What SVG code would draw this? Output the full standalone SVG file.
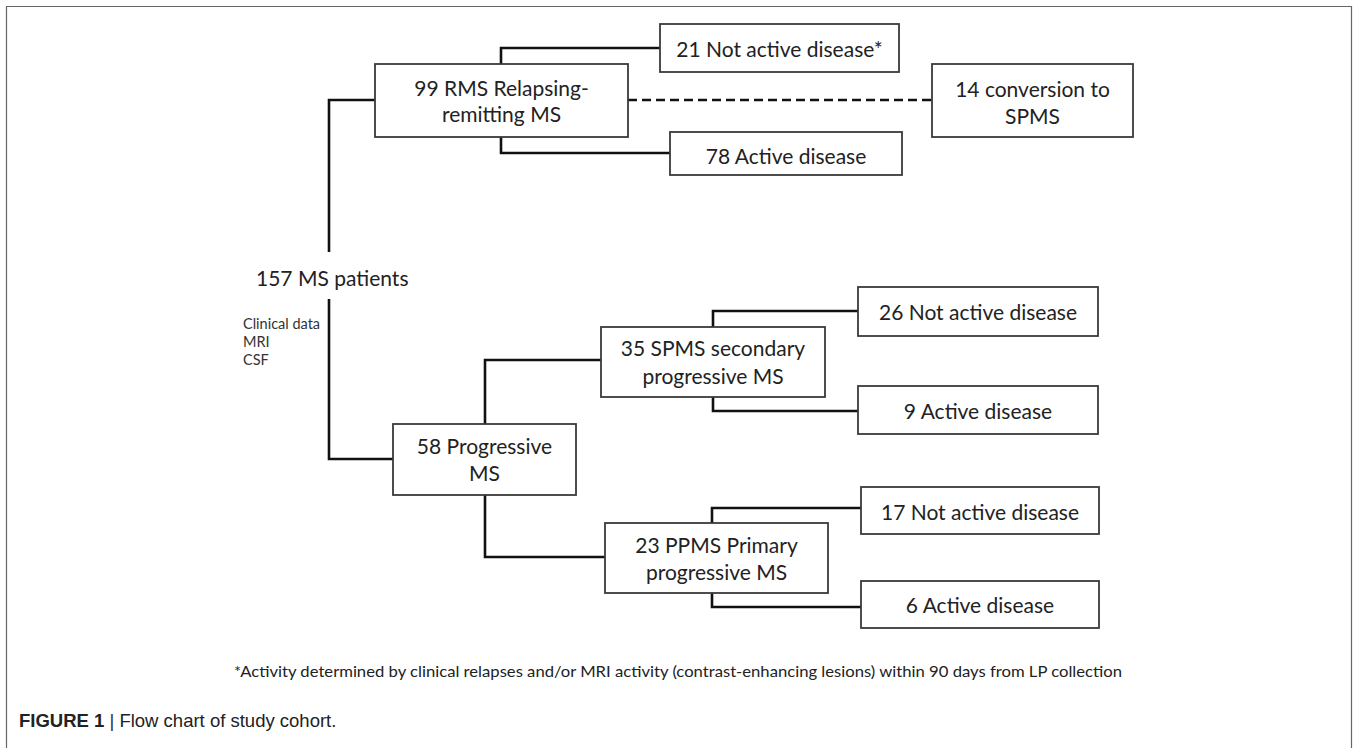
<svg xmlns="http://www.w3.org/2000/svg" width="1357" height="748" viewBox="0 0 1357 748">
<style>
.box{fill:#fff;stroke:#3a3a3a;stroke-width:1.8}
.t{font-family:Lato,"Open Sans","Liberation Sans",sans-serif;font-size:21px;fill:#222;text-anchor:middle}
.c{fill:none;stroke:#111;stroke-width:2.6}
.d{stroke-dasharray:9 5}
.small{font-family:Lato,"Open Sans","Liberation Sans",sans-serif;font-size:14.5px;fill:#333}
</style>
<rect x="0" y="0" width="1357" height="748" fill="#fff"/>
<path d="M6.5,760 V6.5 H1351.5 V760" fill="none" stroke="#666" stroke-width="1.2"/>
<g id="connectors">
<path class="c" d="M375,100 H329 V252"/>
<path class="c" d="M329,299 V459 H393"/>
<path class="c" d="M501,64 V48 H660"/>
<path class="c" d="M501,137 V153 H670"/>
<path class="c d" d="M628,100 H932"/>
<path class="c" d="M485,424 V360 H601"/>
<path class="c" d="M485,495 V557 H605"/>
<path class="c" d="M713,327 V311 H858"/>
<path class="c" d="M713,397 V411 H858"/>
<path class="c" d="M712,523 V508 H861"/>
<path class="c" d="M712,593 V607 H861"/>
</g>
<g id="root">
<text x="256" y="286" style="font-family:Lato,'Open Sans','Liberation Sans',sans-serif;font-size:21px;fill:#222">157 MS patients</text>
<text class="small" x="243" y="329">Clinical data</text>
<text class="small" x="243" y="347">MRI</text>
<text class="small" x="243" y="365">CSF</text>
</g>
<g id="rms">
<rect class="box" x="375" y="64" width="253" height="73"/>
<text class="t" x="501.5" y="96">99 RMS Relapsing-</text>
<text class="t" x="501.5" y="122">remitting MS</text>
</g>
<g id="rms-not-active">
<rect class="box" x="660" y="24" width="239" height="48"/>
<text class="t" x="779.5" y="57">21 Not active disease*</text>
</g>
<g id="conversion">
<rect class="box" x="932" y="64" width="201" height="73"/>
<text class="t" x="1032.5" y="97">14 conversion to</text>
<text class="t" x="1032.5" y="124">SPMS</text>
</g>
<g id="rms-active">
<rect class="box" x="670" y="132" width="232" height="43"/>
<text class="t" x="786" y="164">78 Active disease</text>
</g>
<g id="progressive">
<rect class="box" x="393" y="424" width="183" height="71"/>
<text class="t" x="484.5" y="454">58 Progressive</text>
<text class="t" x="484.5" y="481">MS</text>
</g>
<g id="spms">
<rect class="box" x="601" y="327" width="224" height="70"/>
<text class="t" x="713" y="356">35 SPMS secondary</text>
<text class="t" x="713" y="384">progressive MS</text>
</g>
<g id="spms-not-active">
<rect class="box" x="858" y="287" width="240" height="49"/>
<text class="t" x="978" y="320">26 Not active disease</text>
</g>
<g id="spms-active">
<rect class="box" x="858" y="386" width="240" height="48"/>
<text class="t" x="978" y="419">9 Active disease</text>
</g>
<g id="ppms">
<rect class="box" x="605" y="523" width="223" height="70"/>
<text class="t" x="716.5" y="553">23 PPMS Primary</text>
<text class="t" x="716.5" y="580">progressive MS</text>
</g>
<g id="ppms-not-active">
<rect class="box" x="861" y="487" width="238" height="47"/>
<text class="t" x="980" y="520">17 Not active disease</text>
</g>
<g id="ppms-active">
<rect class="box" x="861" y="581" width="238" height="47"/>
<text class="t" x="980" y="613">6 Active disease</text>
</g>
<text x="678" y="677" text-anchor="middle" textLength="888" lengthAdjust="spacingAndGlyphs" style="font-family:Lato,'Open Sans','Liberation Sans',sans-serif;font-size:15px;fill:#222">*Activity determined by clinical relapses and/or MRI activity (contrast-enhancing lesions) within 90 days from LP collection</text>
<text x="19" y="727" style="font-family:'Liberation Sans',Arial,sans-serif;font-size:18.5px;fill:#222"><tspan font-weight="bold">FIGURE 1</tspan><tspan fill="#333"> | </tspan>Flow chart of study cohort.</text>
</svg>
